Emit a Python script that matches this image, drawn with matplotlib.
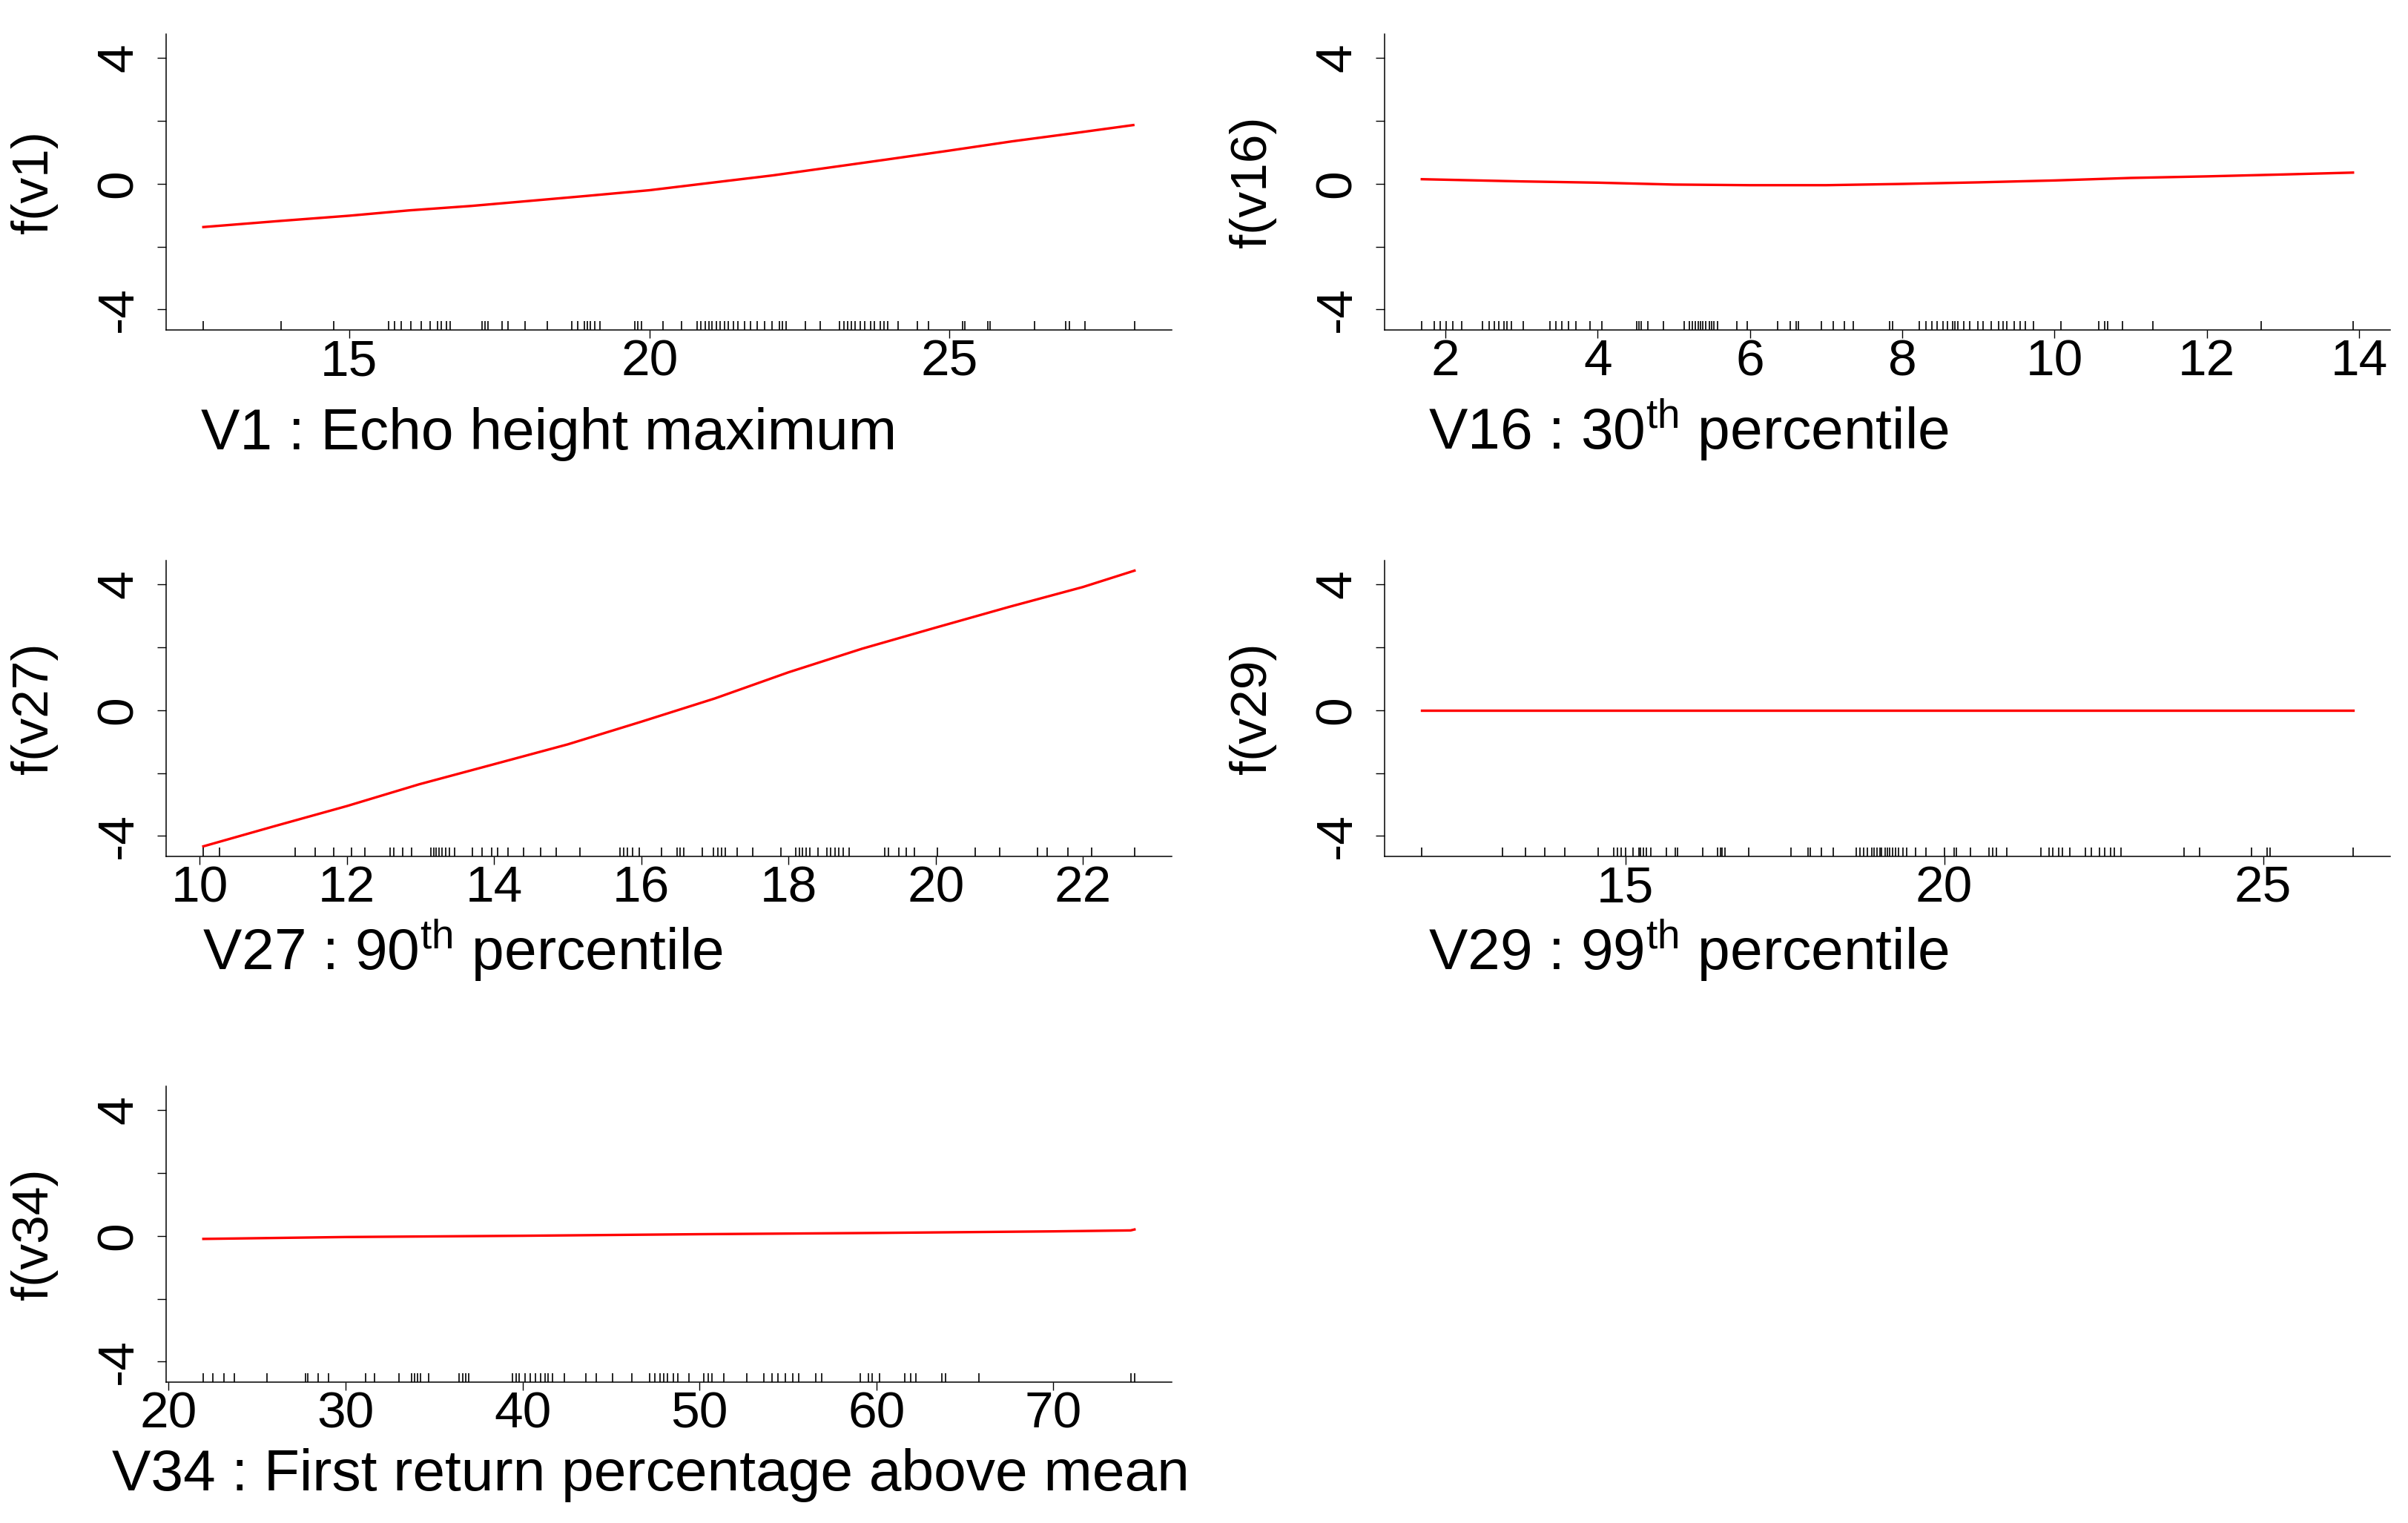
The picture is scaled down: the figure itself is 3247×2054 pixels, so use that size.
import matplotlib
matplotlib.use("Agg")
import matplotlib.pyplot as plt

plt.rcParams['font.family'] = ['Liberation Sans', 'DejaVu Sans']
plt.rcParams['mathtext.fontset'] = 'custom'
plt.rcParams['mathtext.rm'] = 'Liberation Sans'
plt.rcParams['mathtext.it'] = 'Liberation Sans'

# ---- partial dependence curves ----
v1_x = [12.57, 13.82, 15.0, 16.0, 17.03, 18.0, 18.96, 20.0, 21.0, 22.05, 23.07, 23.97, 25.0, 26.03, 27.06, 28.06]
v1_y = [-1.38, -1.19, -1.02, -0.85, -0.71, -0.55, -0.39, -0.21, 0.02, 0.26, 0.53, 0.77, 1.05, 1.34, 1.60, 1.86]
v1_rug = [12.57, 13.86, 14.74, 15.66, 15.75, 15.87, 16.02, 16.20, 16.35, 16.47, 16.53, 16.62, 16.68,
          17.21, 17.26, 17.31, 17.55, 17.64, 17.93, 18.30, 18.71, 18.80, 18.92, 18.96, 19.02, 19.09,
          19.18, 19.76, 19.81, 19.87, 20.22, 20.53, 20.80, 20.86, 20.93, 20.99, 21.04, 21.12, 21.18,
          21.25, 21.31, 21.40, 21.48, 21.59, 21.68, 21.79, 21.92, 22.04, 22.17, 22.21, 22.28, 22.60,
          22.84, 23.17, 23.24, 23.30, 23.37, 23.43, 23.51, 23.59, 23.68, 23.75, 23.84, 23.91, 23.97,
          24.14, 24.46, 24.65, 25.22, 25.26, 25.64, 25.68, 26.41, 26.93, 26.99, 27.25, 28.08]

v16_x = [1.69, 3.0, 4.0, 5.0, 6.0, 7.0, 8.0, 9.0, 10.0, 11.0, 12.0, 13.0, 13.92]
v16_y = [0.14, 0.07, 0.03, -0.03, -0.05, -0.05, -0.01, 0.04, 0.10, 0.18, 0.23, 0.29, 0.35]
v16_rug = [1.69, 1.85, 1.93, 2.01, 2.10, 2.21, 2.49, 2.57, 2.64, 2.70, 2.77, 2.81, 2.87, 3.02, 3.37,
           3.45, 3.53, 3.62, 3.71, 3.90, 4.05, 4.51, 4.54, 4.57, 4.66, 4.86, 5.14, 5.20, 5.24, 5.28,
           5.32, 5.35, 5.38, 5.42, 5.47, 5.50, 5.53, 5.57, 5.83, 5.96, 6.36, 6.53, 6.61, 6.64, 6.94,
           7.09, 7.24, 7.36, 7.83, 7.87, 8.22, 8.31, 8.39, 8.46, 8.54, 8.59, 8.66, 8.69, 8.73, 8.81,
           8.89, 8.99, 9.06, 9.17, 9.27, 9.32, 9.37, 9.47, 9.55, 9.62, 9.72, 10.08, 10.58, 10.66,
           10.70, 10.89, 11.29, 12.71, 13.92]

v27_x = [10.05, 11.0, 12.0, 12.98, 14.0, 15.0, 16.0, 17.0, 18.0, 19.0, 20.0, 21.0, 22.0, 22.70]
v27_y = [-4.33, -3.70, -3.05, -2.36, -1.72, -1.09, -0.37, 0.37, 1.20, 1.95, 2.62, 3.28, 3.91, 4.43]
v27_rug = [10.05, 10.27, 11.30, 11.57, 11.82, 12.06, 12.24, 12.59, 12.64, 12.76, 12.88, 13.14, 13.18,
           13.21, 13.25, 13.29, 13.34, 13.39, 13.46, 13.71, 13.84, 13.97, 14.05, 14.19, 14.40, 14.63,
           14.84, 15.17, 15.71, 15.76, 15.81, 15.88, 15.97, 16.27, 16.49, 16.53, 16.58, 16.83, 16.98,
           17.04, 17.09, 17.14, 17.30, 17.51, 17.90, 18.10, 18.15, 18.19, 18.24, 18.29, 18.40, 18.52,
           18.57, 18.63, 18.68, 18.74, 18.82, 19.31, 19.36, 19.50, 19.60, 19.71, 20.02, 20.54, 20.87,
           21.38, 21.51, 21.80, 22.12, 22.70]

v29_x = [11.81, 26.41]
v29_y = [0.0, 0.0]
v29_rug = [11.81, 13.07, 13.43, 13.74, 14.05, 14.58, 14.82, 14.88, 14.94, 15.00, 15.12, 15.21, 15.24,
           15.28, 15.33, 15.40, 15.64, 15.79, 15.82, 16.21, 16.45, 16.49, 16.52, 16.56, 16.93, 17.60,
           17.86, 17.90, 18.08, 18.26, 18.62, 18.68, 18.74, 18.80, 18.86, 18.90, 18.95, 18.99, 19.02,
           19.07, 19.11, 19.14, 19.19, 19.24, 19.29, 19.35, 19.41, 19.55, 19.71, 20.01, 20.16, 20.19,
           20.41, 20.70, 20.76, 20.82, 20.98, 21.52, 21.64, 21.70, 21.80, 21.85, 21.97, 22.22, 22.31,
           22.43, 22.52, 22.61, 22.67, 22.77, 23.76, 24.00, 24.82, 25.06, 25.11, 26.41]

v34_x = [21.96, 30.0, 40.0, 50.0, 60.0, 70.0, 74.36, 74.58]
v34_y = [-0.10, -0.04, 0.0, 0.05, 0.09, 0.14, 0.17, 0.20]
v34_rug = [21.96, 22.48, 23.14, 23.71, 25.54, 27.72, 27.85, 28.46, 29.02, 31.12, 31.64, 33.03, 33.73,
           33.91, 34.08, 34.25, 34.69, 36.43, 36.61, 36.78, 36.96, 39.44, 39.62, 39.79, 40.14, 40.44,
           40.71, 41.01, 41.27, 41.45, 41.67, 42.36, 43.58, 44.15, 45.07, 46.16, 47.20, 47.46, 47.77,
           47.99, 48.20, 48.51, 48.77, 49.42, 50.25, 50.51, 50.69, 51.39, 52.69, 53.65, 54.09, 54.44,
           54.87, 55.27, 55.61, 56.57, 56.92, 59.10, 59.54, 59.76, 60.19, 61.59, 61.94, 62.24, 63.68,
           63.90, 65.77, 74.36, 74.58]

W, H = 3248, 2054
fig = plt.figure(figsize=(W / 100, H / 100), dpi=100)


def make_panel(left, top, curve_x, curve_y, rug, xticks, ylabel, xlabel, label_x, label_base):
    ax = fig.add_axes([left / W, 1 - (top + 399) / H, 1356 / W, 399 / H])
    ax.plot(curve_x, curve_y, color='red', lw=2.4)
    ax.vlines(rug, 0, 0.03, transform=ax.get_xaxis_transform(), color='black', lw=1.2)
    # R style: data range plus 4% on each side
    lo = min(rug)
    hi = max(rug)
    pad = (hi - lo) * 0.04
    ax.set_xlim(lo - pad, hi + pad)
    ax.set_ylim(-4.65, 4.75)
    ax.set_xticks(xticks)
    ax.set_xticklabels([str(t) for t in xticks])
    ax.set_yticks([-4, -2, 0, 2, 4])
    ax.set_yticklabels(['-4', '', '0', '', '4'], rotation=90, va='center')
    ax.spines['top'].set_visible(False)
    ax.spines['right'].set_visible(False)
    for s in ('left', 'bottom'):
        ax.spines[s].set_linewidth(1.1)
    ax.tick_params(axis='x', length=8, width=1.0, labelsize=50, pad=0)
    ax.tick_params(axis='y', length=9, width=1.0, labelsize=50, pad=14)
    ax.set_ylabel(ylabel, fontsize=50)
    ax.yaxis.set_label_coords(-146 / 1356, 0.5)
    fig.text(label_x / W, 1 - label_base / H, xlabel, fontsize=56.5, ha='left', va='baseline')
    return ax


make_panel(224, 46, v1_x, v1_y, v1_rug, [15, 20, 25], 'f(v1)',
           'V1 : Echo height maximum', 271, 606)
make_panel(1867, 46, v16_x, v16_y, v16_rug, [2, 4, 6, 8, 10, 12, 14], 'f(v16)',
           r'V16 : 30$^{\mathrm{th}}$ percentile', 1926, 606)
make_panel(224, 756, v27_x, v27_y, v27_rug, [10, 12, 14, 16, 18, 20, 22], 'f(v27)',
           r'V27 : 90$^{\mathrm{th}}$ percentile', 273, 1308)
make_panel(1867, 756, v29_x, v29_y, v29_rug, [15, 20, 25], 'f(v29)',
           r'V29 : 99$^{\mathrm{th}}$ percentile', 1926, 1308)
make_panel(224, 1465, v34_x, v34_y, v34_rug, [20, 30, 40, 50, 60, 70], 'f(v34)',
           'V34 : First return percentage above mean', 151, 2010)

fig.savefig('out.png', dpi=100)
